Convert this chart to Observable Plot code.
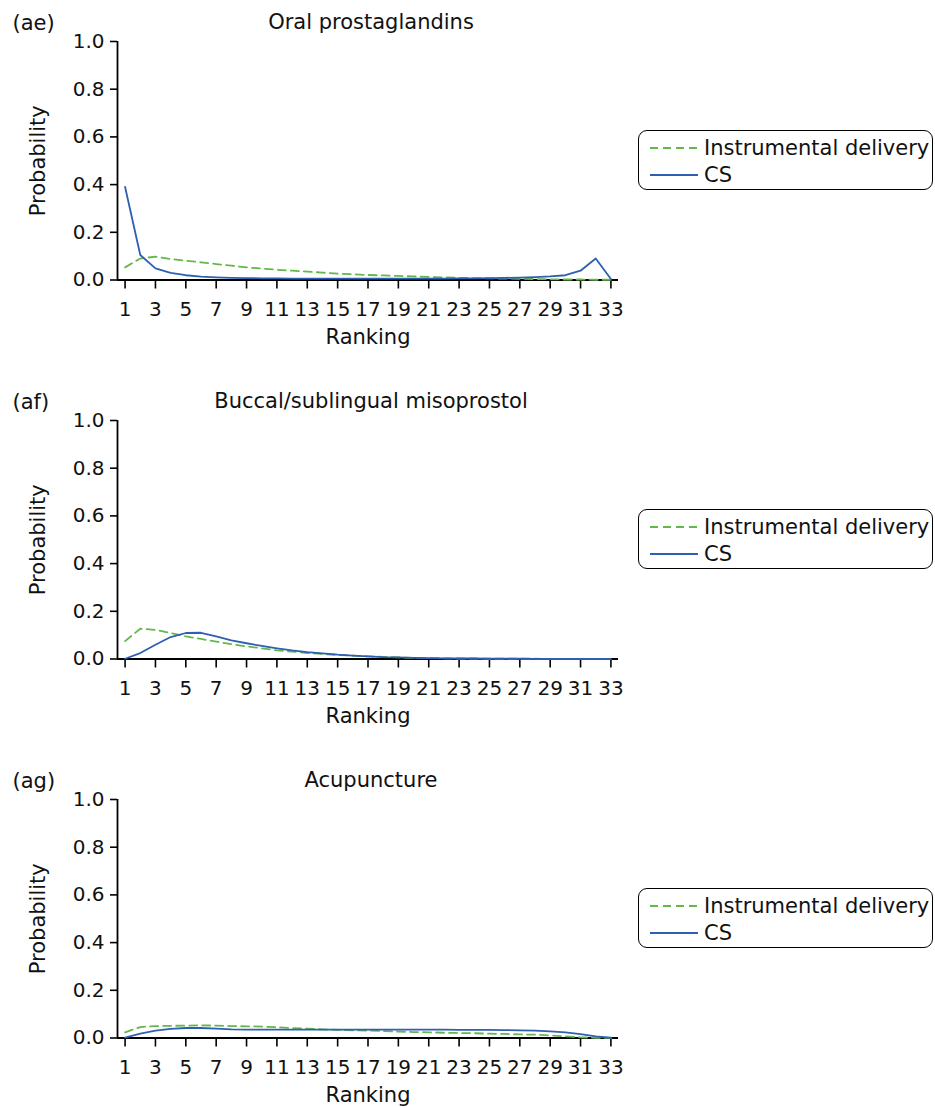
<!DOCTYPE html>
<html>
<head>
<meta charset="utf-8">
<script src="https://cdn.jsdelivr.net/npm/d3@7"></script>
<script src="https://cdn.jsdelivr.net/npm/@observablehq/plot@0.6"></script>
<style>
  body { margin: 0; background: #fff; font-family: "DejaVu Sans", sans-serif; }
  .panel { position: relative; width: 935px; }
  .panel svg { display: block; }
  .legend { position: absolute; left: 638px; width: 295px; height: 60px; border: 1.6px solid #000; border-radius: 9px; box-sizing: border-box; background: #fff; }
  .row { position: absolute; left: 0; height: 26px; display: flex; align-items: center; font-size: 21px; color: #111; white-space: nowrap; }
  .row svg { margin-left: 11px; margin-right: 6px; }
</style>
</head>
<body>
<div id="root"></div>
<script>
const ranks = [1,2,3,4,5,6,7,8,9,10,11,12,13,14,15,16,17,18,19,20,21,22,23,24,25,26,27,28,29,30,31,32,33];
const xTicks = [1,3,5,7,9,11,13,15,17,19,21,23,25,27,29,31,33];
const yTicks = [0, 0.2, 0.4, 0.6, 0.8, 1.0];
const seriesNames = ["Instrumental delivery", "CS"];
const panelLabels = ["(ae)", "(af)", "(ag)"];
const panelTitles = ["Oral prostaglandins", "Buccal/sublingual misoprostol", "Acupuncture"];

const instAE = [0.053,0.09,0.098,0.088,0.081,0.074,0.067,0.06,0.053,0.048,0.043,0.039,0.035,0.031,0.027,0.024,0.021,0.019,0.017,0.015,0.013,0.011,0.009,0.008,0.007,0.006,0.005,0.004,0.003,0.002,0.002,0.001,0.001];
const csAE   = [0.39,0.105,0.049,0.03,0.02,0.014,0.011,0.009,0.008,0.007,0.007,0.006,0.006,0.006,0.006,0.006,0.006,0.006,0.006,0.006,0.006,0.006,0.007,0.007,0.008,0.009,0.01,0.012,0.015,0.02,0.039,0.09,0.004];

const instAF = [0.075,0.127,0.122,0.109,0.095,0.084,0.073,0.062,0.053,0.045,0.036,0.031,0.025,0.021,0.017,0.014,0.011,0.009,0.007,0.005,0.004,0.003,0.002,0.002,0.001,0.001,0.001,0.001,0,0,0,0,0];
const csAF   = [0.001,0.025,0.06,0.092,0.109,0.11,0.095,0.078,0.066,0.055,0.045,0.036,0.029,0.024,0.018,0.014,0.011,0.008,0.007,0.005,0.004,0.003,0.002,0.002,0.001,0.001,0.001,0,0,0,0,0,0];

const instAG = [0.024,0.046,0.05,0.051,0.052,0.053,0.052,0.05,0.049,0.048,0.045,0.042,0.039,0.036,0.034,0.032,0.031,0.029,0.027,0.025,0.024,0.022,0.021,0.02,0.018,0.017,0.015,0.014,0.011,0.007,0.003,0.001,0];
const csAG   = [0.002,0.018,0.031,0.038,0.042,0.042,0.039,0.036,0.035,0.035,0.035,0.035,0.035,0.035,0.035,0.035,0.035,0.035,0.035,0.035,0.035,0.035,0.034,0.034,0.034,0.033,0.032,0.031,0.028,0.024,0.016,0.007,0.001];

const GREEN = "#62b84a";
const BLUE = "#2f5fb3";
const DASH = "8,5";

const panels = [
  {inst: instAE, cs: csAE, height: 379},
  {inst: instAF, cs: csAF, height: 379},
  {inst: instAG, cs: csAG, height: 350}
];

const root = document.getElementById("root");

panels.forEach((p, i) => {
  const instData = ranks.map((r, k) => ({rank: r, value: p.inst[k]}));
  const csData = ranks.map((r, k) => ({rank: r, value: p.cs[k]}));
  const H = p.height;
  const marginTop = 41;
  const plotH = 238.5;
  const chart = Plot.plot({
    width: 935,
    height: H,
    marginLeft: 117,
    marginRight: 317,
    marginTop: marginTop,
    marginBottom: H - marginTop - plotH,
    style: {fontFamily: "DejaVu Sans", fontSize: "20px", color: "#111", background: "white", overflow: "visible"},
    x: {domain: [0.5, 33.5]},
    y: {domain: [0, 1]},
    marks: [
      Plot.axisX({ticks: xTicks, tickSize: 9, tickPadding: 13, tickFormat: d => String(d), label: null, stroke: "#000", strokeWidth: 1.6, fontSize: 20}),
      Plot.axisY({ticks: yTicks, tickSize: 7, tickPadding: 6, tickFormat: d => d.toFixed(1), label: null, stroke: "#000", strokeWidth: 1.6, fontSize: 20}),
      Plot.ruleY([0], {stroke: "#000", strokeWidth: 1.8}),
      Plot.ruleX([0.5], {y1: 0, y2: 1, stroke: "#000", strokeWidth: 1.8}),
      Plot.line(instData, {x: "rank", y: "value", stroke: GREEN, strokeWidth: 1.8, strokeDasharray: DASH}),
      Plot.line(csData, {x: "rank", y: "value", stroke: BLUE, strokeWidth: 1.8}),
      Plot.text([panelTitles[i]], {frameAnchor: "top", lineAnchor: "middle", textAnchor: "middle", dx: 3, dy: -19, fontSize: 21, fill: "#111"}),
      Plot.text([panelLabels[i]], {frameAnchor: "top-left", lineAnchor: "middle", dx: -105, dy: -18, textAnchor: "start", fontSize: 21, fill: "#111"}),
      Plot.text(["Ranking"], {frameAnchor: "bottom", lineAnchor: "middle", textAnchor: "middle", dy: 57, fontSize: 21, fill: "#111"}),
      Plot.text(["Probability"], {frameAnchor: "left", lineAnchor: "middle", textAnchor: "middle", dx: -79, rotate: -90, fontSize: 21, fill: "#111"})
    ]
  });
  const div = document.createElement("div");
  div.className = "panel";
  div.style.height = H + "px";
  div.appendChild(chart);
  const legend = document.createElement("div");
  legend.className = "legend";
  legend.style.top = "130px";
  const styles = [
    {color: GREEN, dash: DASH, top: 4},
    {color: BLUE, dash: null, top: 31}
  ];
  seriesNames.forEach((name, k) => {
    const row = document.createElement("div");
    row.className = "row";
    row.style.top = styles[k].top + "px";
    const s = d3.create("svg").attr("width", 48).attr("height", 10);
    s.append("line").attr("x1", 0).attr("x2", 48).attr("y1", 5).attr("y2", 5)
      .attr("stroke", styles[k].color).attr("stroke-width", 1.8)
      .attr("stroke-dasharray", styles[k].dash);
    row.appendChild(s.node());
    const t = document.createElement("span");
    t.textContent = name;
    row.appendChild(t);
    legend.appendChild(row);
  });
  div.appendChild(legend);
  root.appendChild(div);
});
</script>
</body>
</html>
